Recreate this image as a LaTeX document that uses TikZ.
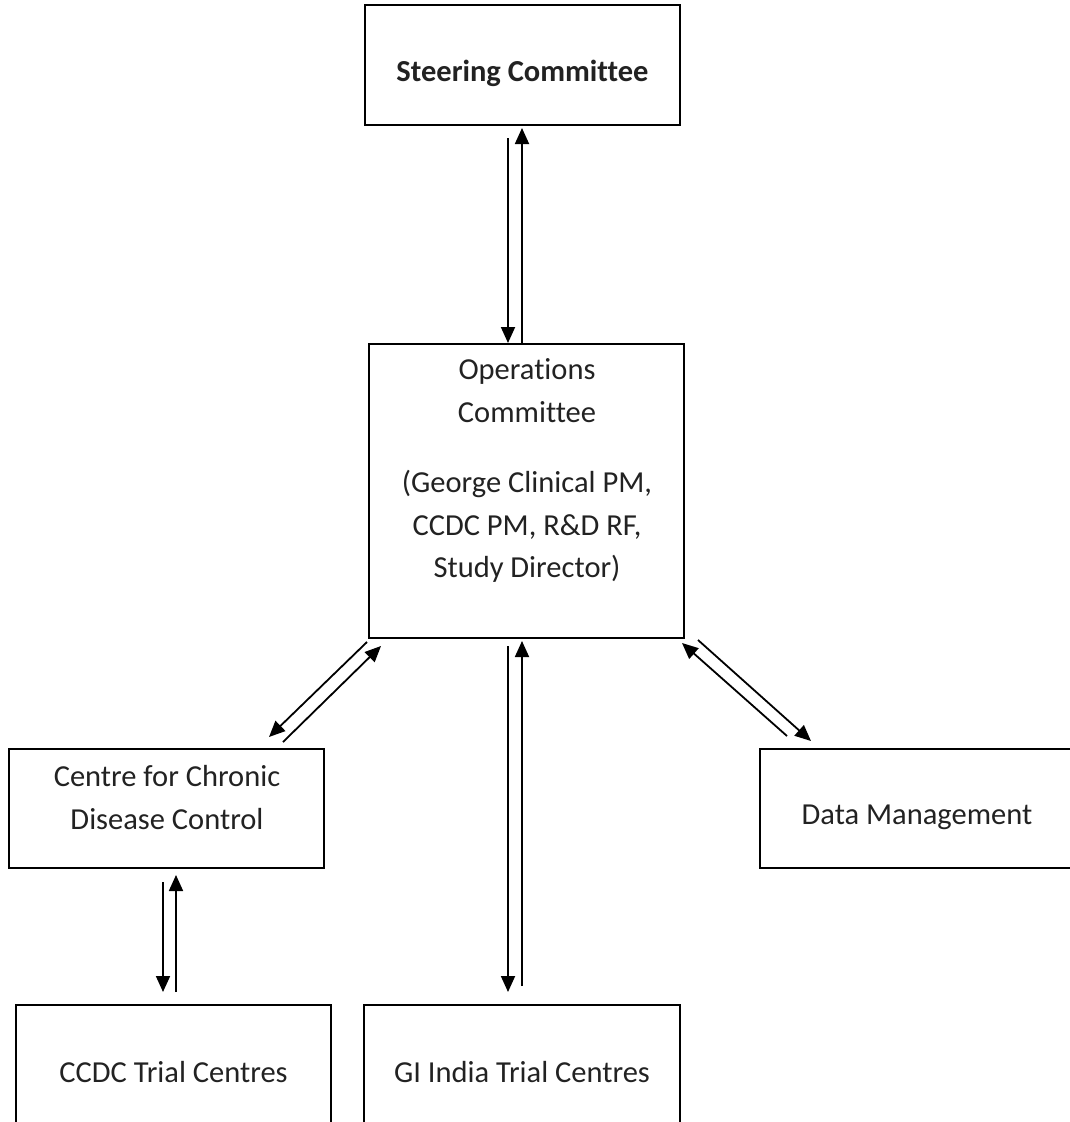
\documentclass[tikz,border=0pt]{standalone}
\usepackage{fontspec}
\setmainfont{Carlito}[Ligatures={NoCommon}]
\usetikzlibrary{arrows.meta,calc}
\definecolor{txt}{HTML}{222222}
\begin{document}
\begin{tikzpicture}[x=1pt,y=1pt,
  box/.style={draw=black,line width=2pt,minimum width=#1,inner sep=0pt},
  lbl/.style={text=txt,align=center,inner sep=0pt,font=\fontsize{30.5}{42.6}\selectfont},
  arr/.style={line width=1.8pt,-{Triangle[length=16pt,width=14pt]}}]
\useasboundingbox (0,0) rectangle (1070,-1122);
\clip (0,0) rectangle (1070,-1122);
% boxes
\node[box=315pt,minimum height=120pt] (steer) at (522.5,-65) {};
\node[box=315pt,minimum height=294pt] (ops) at (526.5,-491) {};
\node[box=315pt,minimum height=119pt] (centre) at (166.5,-808.5) {};
\node[box=314pt,minimum height=119pt] (data) at (917,-808.5) {};
\node[box=315pt,minimum height=160pt] (ccdc) at (173.5,-1085) {};
\node[box=316pt,minimum height=160pt] (gi) at (522,-1085) {};
% texts
\node[lbl,font=\fontsize{30.5}{42.6}\selectfont\bfseries] (steer-t) at (522.5,-73) {Steering Committee};
\node[lbl] (ops-t) at (527,-470.5) {Operations\\Committee\\[27.8pt](George Clinical PM,\\CCDC PM, R\&D RF,\\Study Director)};
\node[lbl] (centre-t) at (167,-797.5) {Centre for Chronic\\Disease Control};
\node[lbl] (data-t) at (917,-817) {Data Management};
\node[lbl] (ccdc-t) at (173.5,-1072) {CCDC Trial Centres};
\node[lbl] (gi-t) at (522,-1072) {GI India Trial Centres};
% connectors
\draw[arr] ($(steer.south)+(-14.5,-12)$) -- ($(ops.north)+(-18.5,0)$);
\draw[arr] ($(ops.north)+(-4.5,0)$) -- ($(steer.south)+(-0.5,-2)$);
\draw[arr] ($(ops.south west)+(-1,-3)$) -- ($(centre.north east)+(-56,11)$);
\draw[arr] ($(centre.north east)+(-42,6)$) -- ($(ops.south west)+(13,-7)$);
\draw[arr] ($(ops.south east)+(13,-1)$) -- ($(data.north west)+(52,7)$);
\draw[arr] ($(data.north west)+(28,12)$) -- ($(ops.south east)+(-3,-4)$);
\draw[arr] ($(ops.south)+(-18.5,-7)$) -- ($(gi.north)+(-14,12)$);
\draw[arr] ($(gi.north)+(0,18)$) -- ($(ops.south)+(-4.5,-2)$);
\draw[arr] ($(centre.south)+(-3.5,-13)$) -- ($(ccdc.north)+(-10.5,12)$);
\draw[arr] ($(ccdc.north)+(2.5,12)$) -- ($(centre.south)+(9.5,-6)$);
\end{tikzpicture}
\end{document}
